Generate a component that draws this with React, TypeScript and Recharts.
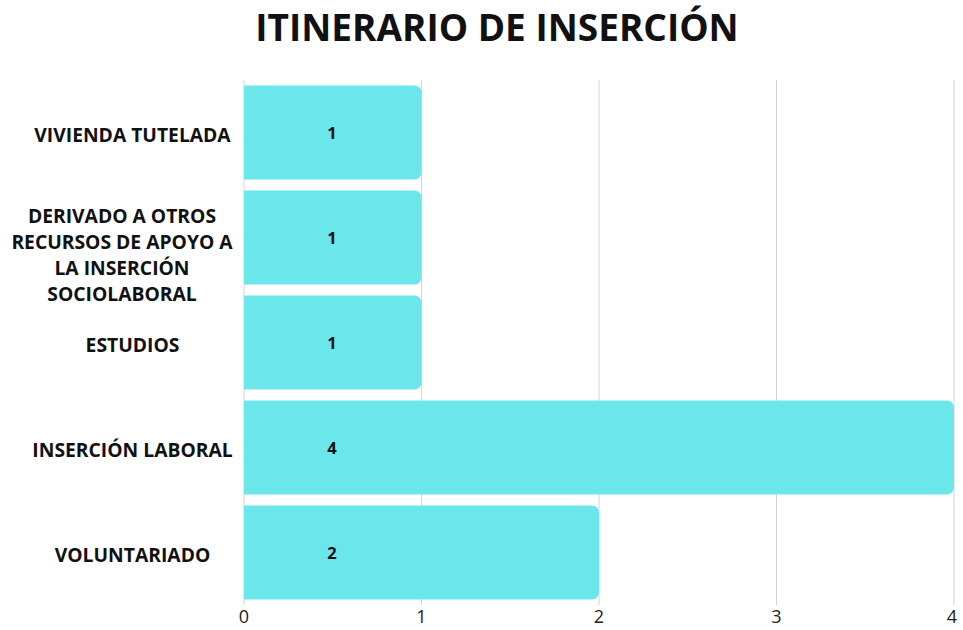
import { BarChart, Bar, XAxis, YAxis, CartesianGrid, LabelList } from "recharts";

const categories = [
    "VIVIENDA TUTELADA",
    "DERIVADO A OTROS\nRECURSOS DE APOYO A\nLA INSERCIÓN\nSOCIOLABORAL",
    "ESTUDIOS",
    "INSERCIÓN LABORAL",
    "VOLUNTARIADO",
];
const values = [1, 1, 1, 4, 2];
const xTicks = [0, 1, 2, 3, 4];

const data = categories.map((name, i) => ({ name, value: values[i] }));

const FONT = "'Open Sans', sans-serif";

// category labels, centred in the left column, split on \n
function CategoryTick(props: any) {
    const { y, payload } = props;
    const lines = String(payload.value).split("\n");
    const lh = 26;
    const multi = lines.length > 1;
    const cx = multi ? 122 : 132.5;
    const start = y - ((lines.length - 1) * lh) / 2 + (multi ? 16 : 1.5);
    return (
        <text
            x={cx}
            y={start}
            textAnchor="middle"
            dominantBaseline="central"
            fontFamily={FONT}
            fontWeight={700}
            fontSize={19.3}
            fill="#111"
        >
            {lines.map((l, i) => (
                <tspan key={i} x={cx} y={start + i * lh} dominantBaseline="central">
                    {l}
                </tspan>
            ))}
        </text>
    );
}

function ValueLabel(props: any) {
    const { x, y, height, value } = props;
    return (
        <text
            x={x + 88}
            y={y + height / 2}
            textAnchor="middle"
            dominantBaseline="central"
            fontFamily={FONT}
            fontWeight={700}
            fontSize={16.5}
            fill="#111"
        >
            {value}
        </text>
    );
}

function NumTick(props: any) {
    const { x, payload } = props;
    const last = payload.value === xTicks[xTicks.length - 1];
    return (
        <text
            x={last ? x - 2 : x}
            y={616}
            textAnchor="middle"
            dominantBaseline="central"
            fontFamily={FONT}
            fontSize={18}
            fill="#222"
        >
            {payload.value}
        </text>
    );
}

export default function App() {
    return (
        <div style={{ position: "absolute", left: 0, top: 0, width: 963, height: 630, background: "#fff" }}>
            <div
                style={{
                    position: "absolute",
                    left: 0,
                    width: 994,
                    top: 1,
                    textAlign: "center",
                    fontFamily: FONT,
                    fontWeight: 700,
                    fontSize: 37,
                    color: "#111",
                }}
            >
                ITINERARIO DE INSERCIÓN
            </div>
            <BarChart
                width={963}
                height={630}
                data={data}
                layout="vertical"
                margin={{ top: 80, right: 9, left: 0, bottom: 0 }}
                barCategoryGap={5.5}
            >
                <CartesianGrid horizontal={false} stroke="#d4d4d4" />
                <XAxis
                    type="number"
                    domain={[0, 4]}
                    ticks={xTicks}
                    axisLine={false}
                    tickLine={false}
                    height={25}
                    tick={<NumTick />}
                />
                <YAxis
                    type="category"
                    dataKey="name"
                    width={244}
                    axisLine={false}
                    tickLine={false}
                    tick={<CategoryTick />}
                />
                <Bar dataKey="value" fill="#6be6ea" radius={[0, 7, 7, 0]} isAnimationActive={false}>
                    <LabelList dataKey="value" content={<ValueLabel />} />
                </Bar>
            </BarChart>
        </div>
    );
}
